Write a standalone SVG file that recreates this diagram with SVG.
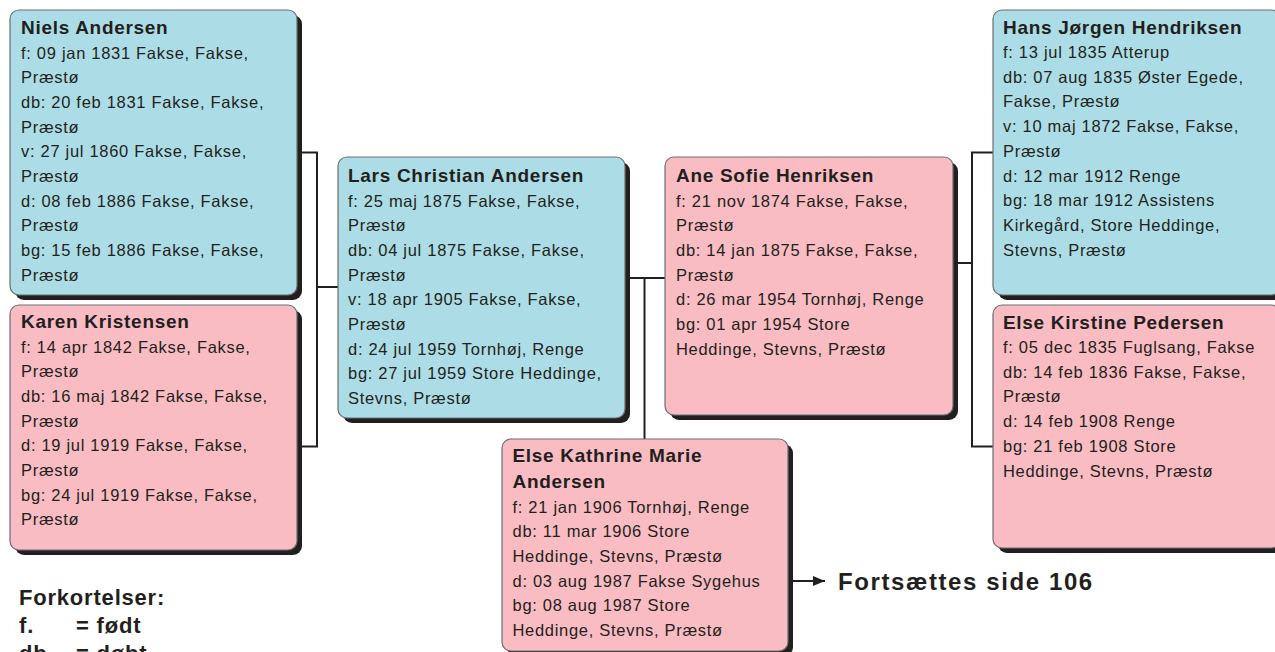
<svg xmlns="http://www.w3.org/2000/svg" width="1275" height="652" viewBox="0 0 1275 652">
<style>
.shadow{fill:#231f20}
.m{fill:#acdde6;stroke:#6d6e70;stroke-width:1.2}
.f{fill:#f8bcc2;stroke:#6d6e70;stroke-width:1.2}
.t{font-family:"Liberation Sans",Arial,sans-serif;font-weight:bold;font-size:19px;letter-spacing:0.7px;fill:#231f20}
.b{font-family:"Liberation Sans",Arial,sans-serif;font-size:16.5px;letter-spacing:0.7px;fill:#231f20}
.c{fill:none;stroke:#231f20;stroke-width:2}
.leg{font-family:"Liberation Sans",Arial,sans-serif;font-weight:bold;font-size:22px;letter-spacing:0.8px;fill:#231f20}
</style>
<defs>
<marker id="ah" markerWidth="12" markerHeight="10" refX="12" refY="5" orient="auto" markerUnits="userSpaceOnUse">
<path d="M0,0 L12,5 L0,10 Z" fill="#231f20"/>
</marker>
</defs>
<rect width="1275" height="652" fill="#ffffff"/>
<g id="connectors">
<polyline class="c" points="297,152.5 317,152.5 317,446.5 297,446.5"/>
<line class="c" x1="317" y1="287" x2="338" y2="287"/>
<line class="c" x1="625" y1="278" x2="665" y2="278"/>
<line class="c" x1="644.5" y1="278" x2="644.5" y2="439"/>
<polyline class="c" points="993,152.5 972,152.5 972,446.5 993,446.5"/>
<line class="c" x1="953" y1="263" x2="972" y2="263"/>
<line class="c" x1="793" y1="581" x2="825" y2="581" marker-end="url(#ah)"/>
</g>
<g id="niels">
<rect class="shadow" x="15" y="15" width="287" height="285" rx="9"/>
<rect class="m" x="10" y="10" width="287" height="285" rx="9"/>
<text class="t" x="21" y="34">Niels Andersen</text>
<text class="b" x="21" y="58.5"><tspan x="21">f: 09 jan 1831 Fakse, Fakse,</tspan><tspan x="21" dy="24.7">Præstø</tspan><tspan x="21" dy="24.7">db: 20 feb 1831 Fakse, Fakse,</tspan><tspan x="21" dy="24.7">Præstø</tspan><tspan x="21" dy="24.7">v: 27 jul 1860 Fakse, Fakse,</tspan><tspan x="21" dy="24.7">Præstø</tspan><tspan x="21" dy="24.7">d: 08 feb 1886 Fakse, Fakse,</tspan><tspan x="21" dy="24.7">Præstø</tspan><tspan x="21" dy="24.7">bg: 15 feb 1886 Fakse, Fakse,</tspan><tspan x="21" dy="24.7">Præstø</tspan></text>
</g>
<g id="karen">
<rect class="shadow" x="15" y="310" width="287" height="245" rx="9"/>
<rect class="f" x="10" y="305" width="287" height="245" rx="9"/>
<text class="t" x="21" y="328">Karen Kristensen</text>
<text class="b" x="21" y="352.5"><tspan x="21">f: 14 apr 1842 Fakse, Fakse,</tspan><tspan x="21" dy="24.7">Præstø</tspan><tspan x="21" dy="24.7">db: 16 maj 1842 Fakse, Fakse,</tspan><tspan x="21" dy="24.7">Præstø</tspan><tspan x="21" dy="24.7">d: 19 jul 1919 Fakse, Fakse,</tspan><tspan x="21" dy="24.7">Præstø</tspan><tspan x="21" dy="24.7">bg: 24 jul 1919 Fakse, Fakse,</tspan><tspan x="21" dy="24.7">Præstø</tspan></text>
</g>
<g id="lars">
<rect class="shadow" x="343" y="162" width="287" height="261" rx="9"/>
<rect class="m" x="338" y="157" width="287" height="261" rx="9"/>
<text class="t" x="348" y="182">Lars Christian Andersen</text>
<text class="b" x="348" y="206.5"><tspan x="348">f: 25 maj 1875 Fakse, Fakse,</tspan><tspan x="348" dy="24.7">Præstø</tspan><tspan x="348" dy="24.7">db: 04 jul 1875 Fakse, Fakse,</tspan><tspan x="348" dy="24.7">Præstø</tspan><tspan x="348" dy="24.7">v: 18 apr 1905 Fakse, Fakse,</tspan><tspan x="348" dy="24.7">Præstø</tspan><tspan x="348" dy="24.7">d: 24 jul 1959 Tornhøj, Renge</tspan><tspan x="348" dy="24.7">bg: 27 jul 1959 Store Heddinge,</tspan><tspan x="348" dy="24.7">Stevns, Præstø</tspan></text>
</g>
<g id="ane">
<rect class="shadow" x="670" y="162" width="288" height="258" rx="9"/>
<rect class="f" x="665" y="157" width="288" height="258" rx="9"/>
<text class="t" x="676" y="182">Ane Sofie Henriksen</text>
<text class="b" x="676" y="206.5"><tspan x="676">f: 21 nov 1874 Fakse, Fakse,</tspan><tspan x="676" dy="24.7">Præstø</tspan><tspan x="676" dy="24.7">db: 14 jan 1875 Fakse, Fakse,</tspan><tspan x="676" dy="24.7">Præstø</tspan><tspan x="676" dy="24.7">d: 26 mar 1954 Tornhøj, Renge</tspan><tspan x="676" dy="24.7">bg: 01 apr 1954 Store</tspan><tspan x="676" dy="24.7">Heddinge, Stevns, Præstø</tspan></text>
</g>
<g id="hans">
<rect class="shadow" x="998" y="15" width="287" height="285" rx="9"/>
<rect class="m" x="993" y="10" width="287" height="285" rx="9"/>
<text class="t" x="1003" y="33.5">Hans Jørgen Hendriksen</text>
<text class="b" x="1003" y="58"><tspan x="1003">f: 13 jul 1835 Atterup</tspan><tspan x="1003" dy="24.7">db: 07 aug 1835 Øster Egede,</tspan><tspan x="1003" dy="24.7">Fakse, Præstø</tspan><tspan x="1003" dy="24.7">v: 10 maj 1872 Fakse, Fakse,</tspan><tspan x="1003" dy="24.7">Præstø</tspan><tspan x="1003" dy="24.7">d: 12 mar 1912 Renge</tspan><tspan x="1003" dy="24.7">bg: 18 mar 1912 Assistens</tspan><tspan x="1003" dy="24.7">Kirkegård, Store Heddinge,</tspan><tspan x="1003" dy="24.7">Stevns, Præstø</tspan></text>
</g>
<g id="else-kirstine">
<rect class="shadow" x="998" y="310" width="287" height="243" rx="9"/>
<rect class="f" x="993" y="305" width="287" height="243" rx="9"/>
<text class="t" x="1003" y="328.5">Else Kirstine Pedersen</text>
<text class="b" x="1003" y="353"><tspan x="1003">f: 05 dec 1835 Fuglsang, Fakse</tspan><tspan x="1003" dy="24.7">db: 14 feb 1836 Fakse, Fakse,</tspan><tspan x="1003" dy="24.7">Præstø</tspan><tspan x="1003" dy="24.7">d: 14 feb 1908 Renge</tspan><tspan x="1003" dy="24.7">bg: 21 feb 1908 Store</tspan><tspan x="1003" dy="24.7">Heddinge, Stevns, Præstø</tspan></text>
</g>
<g id="else-kathrine">
<rect class="shadow" x="507" y="444" width="286" height="212" rx="9"/>
<rect class="f" x="502" y="439" width="286" height="212" rx="9"/>
<text class="t" x="512.5" y="462"><tspan x="512.5">Else Kathrine Marie</tspan><tspan x="512.5" dy="26">Andersen</tspan></text>
<text class="b" x="512.5" y="512.5"><tspan x="512.5">f: 21 jan 1906 Tornhøj, Renge</tspan><tspan x="512.5" dy="24.7">db: 11 mar 1906 Store</tspan><tspan x="512.5" dy="24.7">Heddinge, Stevns, Præstø</tspan><tspan x="512.5" dy="24.7">d: 03 aug 1987 Fakse Sygehus</tspan><tspan x="512.5" dy="24.7">bg: 08 aug 1987 Store</tspan><tspan x="512.5" dy="24.7">Heddinge, Stevns, Præstø</tspan></text>
</g>
<text class="leg" x="838" y="590" style="font-size:24px;letter-spacing:1.6px">Fortsættes side 106</text>
<g id="legend">
<text class="leg" x="19" y="605">Forkortelser:</text>
<text class="leg" x="19" y="633">f.</text>
<text class="leg" x="76" y="633">= født</text>
<text class="leg" x="19" y="661">db.</text>
<text class="leg" x="76" y="661">= døbt</text>
</g>
</svg>
